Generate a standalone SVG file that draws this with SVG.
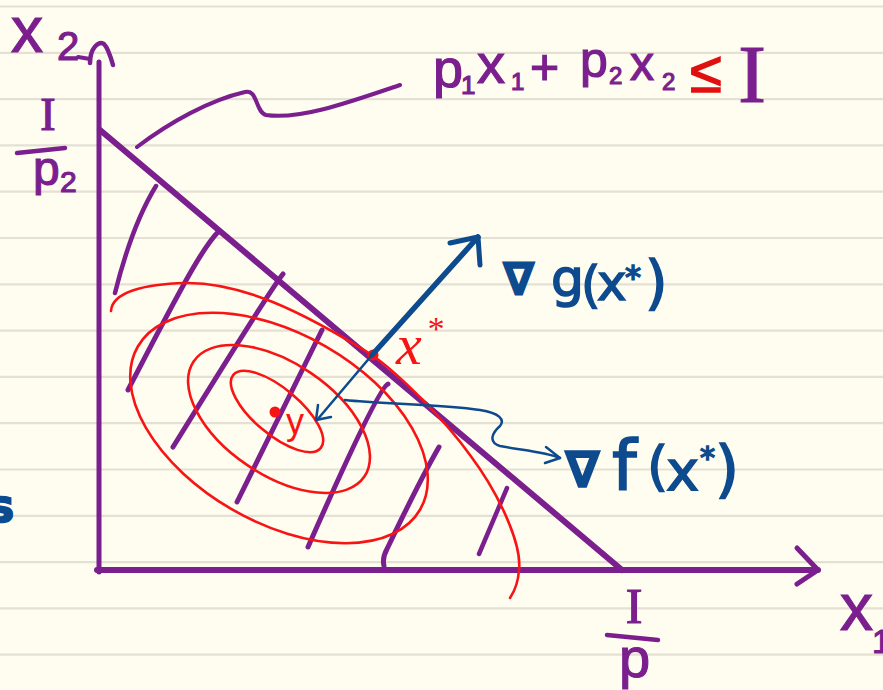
<svg xmlns="http://www.w3.org/2000/svg" width="883" height="690" viewBox="0 0 883 690">
<defs>
<style>
.rule{stroke:#E4E1D4;stroke-width:2.2}
.pu{stroke:#7B1F8E;fill:none;stroke-linecap:round;stroke-linejoin:round}
.rd{stroke:#F81414;fill:none;stroke-width:2.6;stroke-linecap:round}
.bl{stroke:#0D4A8E;fill:none;stroke-linecap:round;stroke-linejoin:round}
.tp{fill:#7B1F8E;stroke:#7B1F8E;stroke-width:1.2;font-family:"Liberation Sans",sans-serif}
.tps{fill:#7B1F8E;stroke:#7B1F8E;stroke-width:1.2;font-family:"Liberation Serif",serif}
.tb{fill:#0D4A8E;stroke:#0D4A8E;stroke-width:1.6;font-family:"DejaVu Sans",sans-serif}
.tr{fill:#F81414;font-family:"Liberation Serif",serif;font-style:italic}
</style>
</defs>
<rect width="883" height="690" fill="#FEFDF0"/>
<g id="rules">
<line class="rule" x1="0" y1="6.5" x2="883" y2="6.5"/>
<line class="rule" x1="0" y1="52.8" x2="883" y2="52.8"/>
<line class="rule" x1="0" y1="99.1" x2="883" y2="99.1"/>
<line class="rule" x1="0" y1="145.4" x2="883" y2="145.4"/>
<line class="rule" x1="0" y1="191.7" x2="883" y2="191.7"/>
<line class="rule" x1="0" y1="238" x2="883" y2="238"/>
<line class="rule" x1="0" y1="284.3" x2="883" y2="284.3"/>
<line class="rule" x1="0" y1="330.6" x2="883" y2="330.6"/>
<line class="rule" x1="0" y1="376.9" x2="883" y2="376.9"/>
<line class="rule" x1="0" y1="423.2" x2="883" y2="423.2"/>
<line class="rule" x1="0" y1="469.5" x2="883" y2="469.5"/>
<line class="rule" x1="0" y1="515.8" x2="883" y2="515.8"/>
<line class="rule" x1="0" y1="562.1" x2="883" y2="562.1"/>
<line class="rule" x1="0" y1="608.4" x2="883" y2="608.4"/>
<line class="rule" x1="0" y1="654.7" x2="883" y2="654.7"/>
</g>
<g id="axes">
<path class="pu" stroke-width="5" d="M99,62 L99,572"/>
<path class="pu" stroke-width="4.5" d="M90,63 C90,48 99,40 104,44 C108,48 111,58 113,65"/>
<path class="pu" stroke-width="4" d="M78,57 L90,59"/>
<path class="pu" stroke-width="6" d="M97,570 L818,570"/>
<path class="pu" stroke-width="5" d="M797,548 L818,570 L797,584"/>
</g>
<g id="budget-line">
<path class="pu" stroke-width="6" d="M100,130 L622,570"/>
<path class="pu" stroke-width="4" d="M137,147 C170,122 210,100 245,92 C258,89 255,112 266,115 C300,120 350,102 400,85"/>
</g>
<g id="hatches">
<path class="pu" stroke-width="4.5" d="M156,186 Q132,225 115,293"/>
<path class="pu" stroke-width="5" d="M219,231 C205,245 190,270 128,390"/>
<path class="pu" stroke-width="5" d="M283,274 Q270,290 173,447"/>
<path class="pu" stroke-width="5" d="M322,330 L237,502"/>
<path class="pu" stroke-width="5" d="M388,384 Q378,388 308,547"/>
<path class="pu" stroke-width="5" d="M439,447 Q420,480 387,549 Q382,558 384,566"/>
<path class="pu" stroke-width="4.5" d="M507,488 L479,554"/>
</g>
<g id="contours">
<ellipse class="rd" cx="277" cy="411.5" rx="57" ry="23" transform="rotate(40 277 411.5)"/>
<ellipse class="rd" cx="279" cy="419" rx="103" ry="56" transform="rotate(34 279 419)"/>
<ellipse class="rd" cx="279" cy="428" rx="163" ry="94" transform="rotate(30 279 428)"/>
<path class="rd" stroke-width="3" d="M111,311 C112,292 145,284 185,283 C240,282 300,310 372,355 C400,375 445,420 470,455 C500,495 522,545 519,570 C518,585 514,592 510,598"/>
<circle cx="373" cy="355" r="5.5" fill="#F81414"/>
<circle cx="275" cy="412" r="5.5" fill="#F81414"/>
</g>
<g id="gradients">
<path class="bl" stroke-width="5.5" d="M372,355 L478,237"/>
<path class="bl" stroke-width="5" d="M450,243 L478,237 L480,265"/>
<path class="bl" stroke-width="2.5" d="M372,355 L317,420"/>
<path class="bl" stroke-width="2.5" d="M318,405 L316,420 L331,417"/>
<path class="bl" stroke-width="2.5" d="M345,400 C380,404 440,404 480,410 C500,413 505,420 500,426 C492,433 488,442 500,446 C520,450 545,452 560,458"/>
<path class="bl" stroke-width="2.5" d="M546,447 L560,458 L545,463"/>
</g>
<g id="labels">
<text class="tp" x="11" y="52" font-size="64">x</text>
<text class="tp" x="57" y="60" font-size="40">2</text>
<text class="tps" x="48" y="130" font-size="46" text-anchor="middle">I</text>
<path class="pu" stroke-width="4.5" d="M17,153 L65,148"/>
<text class="tp" x="33" y="185" font-size="48">p</text>
<text class="tp" x="60" y="192" font-size="30">2</text>
<text class="tp" x="433" y="87" font-size="54">p</text>
<text class="tp" x="461" y="94" font-size="26">1</text>
<text class="tp" x="477" y="83" font-size="56">x</text>
<text class="tp" x="511" y="90" font-size="24">1</text>
<text class="tp" x="530" y="84" font-size="50">+</text>
<text class="tp" x="580" y="77" font-size="50">p</text>
<text class="tp" x="609" y="84" font-size="24">2</text>
<text class="tp" x="630" y="80" font-size="48">x</text>
<text class="tp" x="662" y="90" font-size="24">2</text>
<text x="690" y="92" font-size="58" fill="#E01010" stroke="#E01010" stroke-width="1.5" font-family="Liberation Sans, DejaVu Sans, sans-serif">≤</text>
<text class="tps" x="752" y="102" font-size="83" text-anchor="middle">I</text>
<text class="tb" x="503" y="295" font-size="45" font-weight="bold">∇</text>
<text class="tb" x="551" y="296" font-size="52">g</text>
<text class="tb" x="581" y="302" font-size="50">(</text>
<text class="tb" x="597" y="300" font-size="50">x</text>
<text class="tb" x="625" y="288" font-size="32">*</text>
<text class="tb" x="645" y="303" font-size="58">)</text>
<text class="tb" x="565" y="487" font-size="50" font-weight="bold">∇</text>
<text class="tb" x="612" y="490" font-size="70">f</text>
<text class="tb" x="647" y="485" font-size="54">(</text>
<text class="tb" x="666" y="490" font-size="56">x</text>
<text class="tb" x="700" y="468" font-size="30">*</text>
<text class="tb" x="715" y="490" font-size="62">)</text>
<text class="tb" x="-13" y="522" font-size="46" font-weight="bold">s</text>
<text class="tr" x="396" y="364" font-size="58">x</text>
<text class="tr" x="426" y="340" font-size="34">*</text>
<text x="286" y="434" font-size="36" fill="#F81414" font-family="Liberation Sans, sans-serif">y</text>
<text class="tp" x="840" y="630" font-size="66">x</text>
<text class="tp" x="872" y="653" font-size="34">1</text>
<text class="tps" x="634" y="623" font-size="50" text-anchor="middle">I</text>
<path class="pu" stroke-width="4.5" d="M607,635 L658,640"/>
<text class="tp" x="619" y="677" font-size="56">p</text>
</g>
</svg>
